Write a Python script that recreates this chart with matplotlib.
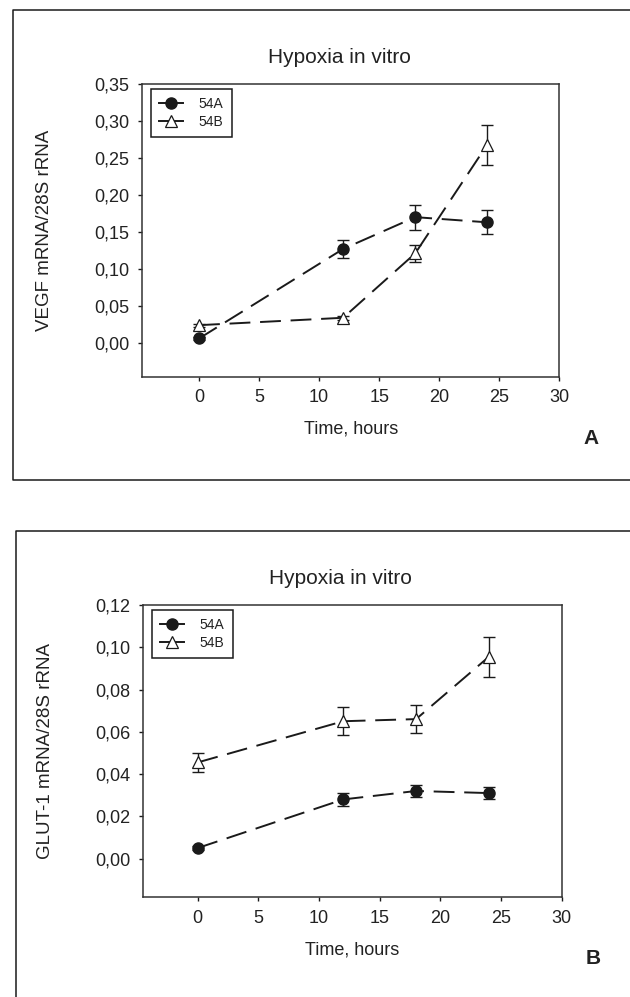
import matplotlib
matplotlib.use('Agg')
import matplotlib.pyplot as plt
from matplotlib.lines import Line2D

plt.rcParams['font.family'] = ['Liberation Sans', 'DejaVu Sans']
plt.rcParams['lines.scale_dashes'] = False

# sampling times (hours)
hours = [0, 12, 18, 24]

# panel A: VEGF mRNA / 28S rRNA
vegf_54a = [0.006, 0.127, 0.170, 0.163]
vegf_54a_err = [0.002, 0.0125, 0.017, 0.016]
vegf_54b = [0.024, 0.034, 0.121, 0.268]
vegf_54b_err = [0.002, 0.003, 0.011, 0.027]

# panel B: GLUT-1 mRNA / 28S rRNA
glut_54a = [0.005, 0.028, 0.032, 0.031]
glut_54a_err = [0.001, 0.003, 0.003, 0.003]
glut_54b = [0.0455, 0.065, 0.066, 0.0955]
glut_54b_err = [0.0045, 0.0065, 0.0066, 0.0095]

vegf_yticks = [0.00, 0.05, 0.10, 0.15, 0.20, 0.25, 0.30, 0.35]
glut_yticks = [0.00, 0.02, 0.04, 0.06, 0.08, 0.10, 0.12]
xticks = [0, 5, 10, 15, 20, 25, 30]

INK = '#1a1a1a'
TXT = '#222222'


def draw_panel(ax, a, a_err, b, b_err, yticks, ylim, xlim, ylabel, letter, lab_x):
    for y, err in [(a, a_err), (b, b_err)]:
        ax.errorbar(hours, y, yerr=err, fmt='none', ecolor=INK, elinewidth=1.0,
                    capsize=4.5, capthick=1.0, zorder=2)
    ax.plot(hours, a, color=INK, lw=1.4, dashes=(15, 7), marker='o', ms=8,
            mfc=INK, mec=INK, zorder=3)
    ax.plot(hours, b, color=INK, lw=1.4, dashes=(15, 7), marker='^', ms=8,
            mfc='white', mec=INK, mew=0.9, zorder=3)

    ax.set_xlim(*xlim)
    ax.set_ylim(*ylim)
    ax.set_xticks(xticks)
    ax.set_yticks(yticks)
    ax.set_yticklabels(['{:.2f}'.format(v).replace('.', ',') for v in yticks])
    ax.tick_params(direction='out', length=3, width=1.0, colors=INK, labelcolor=TXT,
                   labelsize=13, pad=6, top=False, right=False)
    for sp in ax.spines.values():
        sp.set_color('#333333')
        sp.set_linewidth(1.1)

    ax.set_xlabel('Time, hours', fontsize=13, color=TXT)
    ax.xaxis.set_label_coords(0.5, -0.15)
    ax.set_ylabel(ylabel, fontsize=13.5, color=TXT)
    ax.yaxis.set_label_coords(lab_x, 0.5)
    ax.text(0.472, 1.09, 'Hypoxia in vitro', transform=ax.transAxes, ha='center',
            va='center', fontsize=15, color=TXT)
    ax.text(1.076, -0.21, letter, transform=ax.transAxes, ha='center', va='center',
            fontsize=15, fontweight='bold', color=TXT)

    handles = [
        Line2D([], [], color=INK, lw=1.4, marker='o', ms=8, mfc=INK, mec=INK),
        Line2D([], [], color=INK, lw=1.4, marker='^', ms=8, mfc='white', mec=INK, mew=0.9),
    ]
    leg = ax.legend(handles, ['54A', '54B'], loc='upper left', bbox_to_anchor=(0.021, 0.983),
                    borderaxespad=0, fontsize=10, handlelength=1.75, handletextpad=1.1,
                    borderpad=0.6, labelspacing=0.25, fancybox=False, framealpha=1,
                    edgecolor=INK)
    leg.get_frame().set_linewidth(1.1)
    for t in leg.get_texts():
        t.set_color(TXT)


fig = plt.figure(figsize=(6.3, 9.97), dpi=100)

ax_a = fig.add_axes([0.2254, 0.6219, 0.6624, 0.2939])
draw_panel(ax_a, vegf_54a, vegf_54a_err, vegf_54b, vegf_54b_err, vegf_yticks,
           (-0.046, 0.35), (-4.75, 30.0), 'VEGF mRNA/28S rRNA', 'A', -0.214)

ax_b = fig.add_axes([0.2270, 0.0998, 0.6646, 0.2934])
draw_panel(ax_b, glut_54a, glut_54a_err, glut_54b, glut_54b_err, glut_yticks,
           (-0.0184, 0.12), (-4.5, 30.0), 'GLUT-1 mRNA/28S rRNA', 'B', -0.213)

# outer frames around each panel (open on the right / bottom like the original)
W, H = 630.0, 997.0
frame_a = [(1.0, 1 - 10 / H), (13 / W, 1 - 10 / H), (13 / W, 1 - 480 / H), (1.0, 1 - 480 / H)]
frame_b = [(1.0, 1 - 531 / H), (16 / W, 1 - 531 / H), (16 / W, 0.0)]
for pts in (frame_a, frame_b):
    xs = [p[0] for p in pts]
    ys = [p[1] for p in pts]
    fig.add_artist(Line2D(xs, ys, transform=fig.transFigure, color=INK, lw=1.1))

fig.savefig('out.png', dpi=100)
